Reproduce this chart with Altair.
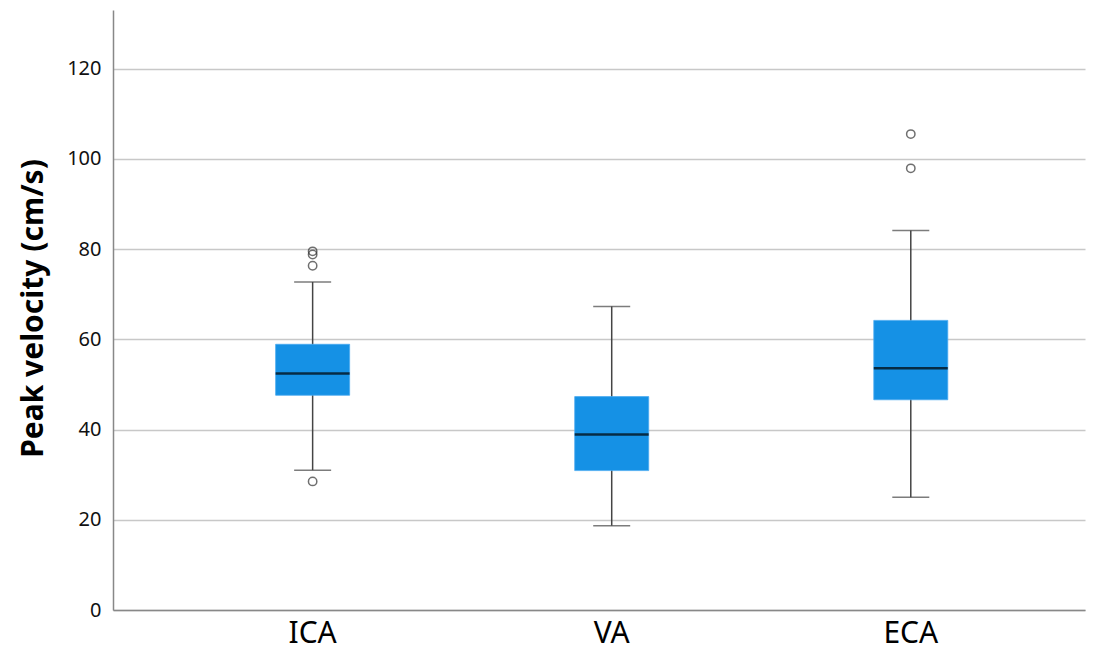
import altair as alt
import pandas as pd

categories = ["ICA", "VA", "ECA"]
whisker_low = [31.0, 18.7, 25.0]
q1 = [47.6, 30.9, 46.6]
median = [52.4, 38.9, 53.6]
q3 = [58.9, 47.3, 64.2]
whisker_high = [72.7, 67.3, 84.1]

outlier_cat = ["ICA", "ICA", "ICA", "ICA", "ECA", "ECA"]
outlier_val = [79.5, 78.8, 76.3, 28.5, 105.5, 97.9]

stats = pd.DataFrame({
    "cat": categories, "lo": whisker_low, "q1": q1, "med": median,
    "q3": q3, "hi": whisker_high,
})
outl = pd.DataFrame({"cat": outlier_cat, "val": outlier_val})

FONT = "Noto Sans"
xscale = alt.Scale(domain=categories, paddingInner=0, paddingOuter=0.125, align=0.67)
x = alt.X("cat:N", scale=xscale, sort=categories,
          axis=alt.Axis(title=None, labelAngle=0, labelFontSize=30, labelColor="#000",
                        labelFont=FONT, ticks=False, labelPadding=8,
                        domainColor="#888", domainWidth=1.5, grid=False))
yscale = alt.Scale(domain=[0, 133], nice=False, zero=True)
yaxis = alt.Axis(title="Peak velocity (cm/s)", values=[0, 20, 40, 60, 80, 100, 120],
                 titleFontSize=30, titleFont=FONT, titleFontWeight="bold", titleColor="#000",
                 labelFontSize=20, labelFont=FONT, labelColor="#111", labelPadding=12,
                 ticks=False, domainColor="#888", domainWidth=1.5,
                 gridColor="#c8c8c8", gridWidth=1.5,
                 titleX=-80, titleY=298, titleAngle=-90, titleAlign="center",
                 titleBaseline="middle")

base = alt.Chart(stats)

whisk = base.mark_rule(color="#444", strokeWidth=1.5).encode(
    x=x, y=alt.Y("lo:Q", scale=yscale, axis=yaxis), y2="hi:Q")
caps_lo = base.mark_tick(color="#444", size=37, thickness=1.5).encode(
    x=x, y=alt.Y("lo:Q", scale=yscale))
caps_hi = base.mark_tick(color="#444", size=37, thickness=1.5).encode(
    x=x, y=alt.Y("hi:Q", scale=yscale))
box = base.mark_bar(size=74, color="#1591E5", stroke="#4aaaf0", strokeWidth=0.8).encode(
    x=x, y=alt.Y("q1:Q", scale=yscale), y2="q3:Q")
med = base.mark_tick(color="#000", size=74, thickness=2.5).encode(
    x=x, y=alt.Y("med:Q", scale=yscale))
pts = alt.Chart(outl).mark_point(shape="circle", size=70, filled=False,
                                 color="#333", strokeWidth=1.5).encode(
    x=x, y=alt.Y("val:Q", scale=yscale))

chart = alt.layer(whisk, caps_lo, caps_hi, box, med, pts).properties(
    width=972, height=600,
    background="white",
    autosize=alt.AutoSizeParams(type="none"),
    padding={"left": 105, "top": 2, "right": 6, "bottom": 44},
).configure_view(stroke=None)

chart.save("out.html", embed_options={"renderer": "svg", "actions": False})
